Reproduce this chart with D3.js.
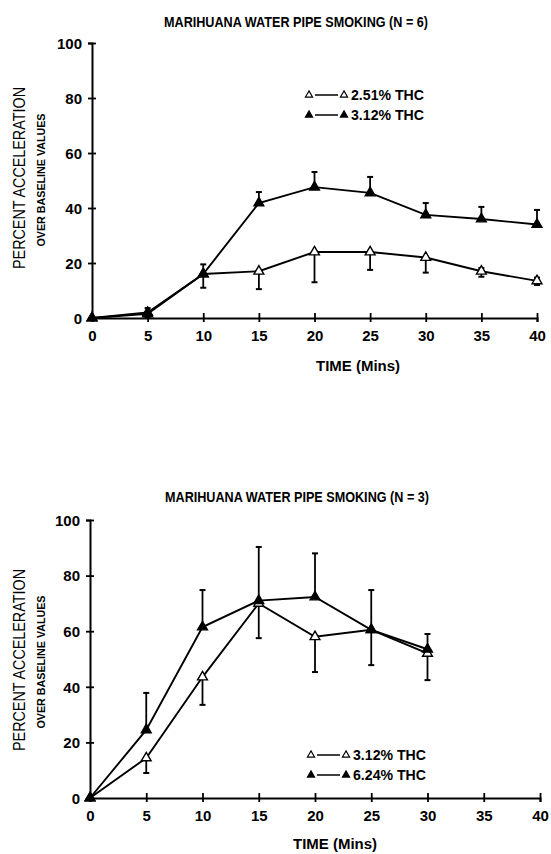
<!DOCTYPE html>
<html><head><meta charset="utf-8">
<script src="https://cdnjs.cloudflare.com/ajax/libs/d3/7.8.5/d3.min.js"></script>
<style>body{margin:0;background:#fff}svg{display:block}text{font-family:"Liberation Sans",Arial,sans-serif;fill:#000}</style>
</head><body>
<script>
// ---- data ----
const xTicks = [0,5,10,15,20,25,30,35,40];
const yTicks = [0,20,40,60,80,100];

// Chart 1 (N = 6)
const times1 = [0,5,10,15,20,25,30,35,40];
const thc251 = [0,1.5,16,17,24,24,22,17,13.5];
const thc251ErrUp = [0,0,0,0,0,0,0,1.2,1.2];
const thc251ErrDown = [0,1.5,5,6.5,11,6.5,5.5,2,1.5];
const thc312a = [0,2,16,41.8,47.6,45.5,37.5,36,34];
const thc312aErrUp = [0,1.6,3.5,4,5.5,5.8,4.3,4.4,5.3];
const thc312aErrDown = [0,0,0,0,0,0,0,0,0];

// Chart 2 (N = 3)
const times2 = [0,5,10,15,20,25,30];
const thc312b = [0,14.4,43.5,70,58,60.5,52];
const thc312bErrUp = [0,0,0,0,0,0,0];
const thc312bErrDown = [0,5.4,10,12.5,12.7,12.7,9.6];
const thc624 = [0,24.5,61.5,71,72.3,60.5,53.5];
const thc624ErrUp = [0,13.3,13.3,19.3,15.7,14.3,5.5];
const thc624ErrDown = [0,0,0,0,0,0,0];

const svg = d3.select("body").append("svg").attr("width",551).attr("height",854);

function drawChart(cfg){
  const g = svg.append("g");
  const x = d3.scaleLinear().domain([0,40]).range([cfg.x0, cfg.x1]);
  const y = d3.scaleLinear().domain([0,100]).range([cfg.y0, cfg.y1]);

  // axes
  const yAxis = g.append("g").attr("transform",`translate(${cfg.x0},0)`)
    .call(d3.axisLeft(y).tickValues(yTicks).tickSize(4).tickPadding(6));
  yAxis.selectAll(".tick line").attr("x1",4).attr("x2",-4);
  const xAxis = g.append("g").attr("transform",`translate(0,${cfg.y0})`)
    .call(d3.axisBottom(x).tickValues(xTicks).tickSize(4).tickPadding(8));
  xAxis.selectAll(".tick line").attr("y1",-5).attr("y2",4);
  [yAxis,xAxis].forEach(a=>{
    a.select(".domain").attr("stroke","#000").attr("stroke-width",2);
    a.selectAll(".tick line").attr("stroke","#000").attr("stroke-width",1.8);
    a.selectAll(".tick text").style("font-family","'Liberation Sans',Arial,sans-serif").attr("font-size",15).attr("font-weight","bold");
  });
  yAxis.selectAll(".tick text").attr("dy","0.35em");

  // title
  g.append("text").attr("x",cfg.titleX).attr("y",cfg.titleY).attr("text-anchor","middle")
    .attr("font-size",14).attr("font-weight","bold").attr("textLength",264).attr("lengthAdjust","spacingAndGlyphs").text(cfg.title);
  // y labels
  g.append("text").attr("transform",`translate(25,${cfg.ylabY}) rotate(-90)`).attr("text-anchor","middle")
    .attr("font-size",17).attr("textLength",182).attr("lengthAdjust","spacingAndGlyphs").text("PERCENT ACCELERATION");
  g.append("text").attr("transform",`translate(45,${cfg.ylabY+2}) rotate(-90)`).attr("text-anchor","middle")
    .attr("font-size",10).attr("font-weight","bold").attr("textLength",133).attr("lengthAdjust","spacingAndGlyphs").text("OVER BASELINE VALUES");
  // x label
  g.append("text").attr("x",cfg.xlabX).attr("y",cfg.xlabY).attr("text-anchor","middle")
    .attr("font-size",14).attr("font-weight","bold").attr("textLength",84).attr("lengthAdjust","spacingAndGlyphs").text("TIME (Mins)");

  const line = d3.line().x(d=>x(d[0])).y(d=>y(d[1]));
  const tri = d3.symbol().type(d3.symbolTriangle).size(42);

  cfg.series.forEach(s=>{
    const pts = s.t.map((t,i)=>[t,s.v[i],s.up[i],s.down[i]]);
    // error bars
    pts.forEach(p=>{
      const hi = p[1]+p[2], lo = p[1]-p[3];
      if(p[2]>0){
        g.append("line").attr("x1",x(p[0])).attr("x2",x(p[0])).attr("y1",y(p[1])).attr("y2",y(hi)).attr("stroke","#000").attr("stroke-width",1.8);
        g.append("line").attr("x1",x(p[0])-3).attr("x2",x(p[0])+3).attr("y1",y(hi)).attr("y2",y(hi)).attr("stroke","#000").attr("stroke-width",2);
      }
      if(p[3]>0){
        g.append("line").attr("x1",x(p[0])).attr("x2",x(p[0])).attr("y1",y(p[1])).attr("y2",y(lo)).attr("stroke","#000").attr("stroke-width",1.8);
        g.append("line").attr("x1",x(p[0])-3).attr("x2",x(p[0])+3).attr("y1",y(lo)).attr("y2",y(lo)).attr("stroke","#000").attr("stroke-width",2);
      }
    });
    g.append("path").datum(pts).attr("d",line).attr("fill","none").attr("stroke","#000").attr("stroke-width",1.9);
    g.selectAll(null).data(pts).enter().append("path").attr("d",tri)
      .attr("transform",d=>`translate(${x(d[0])},${y(d[1])})`)
      .attr("fill",s.filled?"#000":"#fff").attr("stroke","#000").attr("stroke-width",1.4);
  });

  // legend
  cfg.legend.forEach((L,i)=>{
    const ly = cfg.legY + i*20;
    const lt = d3.symbol().type(d3.symbolTriangle).size(22);
    g.append("path").attr("d",lt).attr("transform",`translate(${cfg.legX},${ly})`).attr("fill",L.filled?"#000":"#fff").attr("stroke","#000").attr("stroke-width",1.2);
    g.append("line").attr("x1",cfg.legX+6).attr("x2",cfg.legX+29).attr("y1",ly).attr("y2",ly).attr("stroke","#000").attr("stroke-width",1.5);
    g.append("path").attr("d",lt).attr("transform",`translate(${cfg.legX+35},${ly})`).attr("fill",L.filled?"#000":"#fff").attr("stroke","#000").attr("stroke-width",1.2);
    g.append("text").attr("x",cfg.legX+42).attr("y",ly+5).attr("font-size",14).attr("font-weight","bold")
      .attr("textLength",73).attr("lengthAdjust","spacingAndGlyphs").text(L.label);
  });
}

drawChart({
  x0:92, x1:537, y0:318, y1:43,
  title:"MARIHUANA WATER PIPE SMOKING (N = 6)", titleX:296, titleY:27,
  ylabY:178, xlabX:358, xlabY:371,
  legX:309, legY:95,
  series:[
    {t:times1, v:thc251, up:thc251ErrUp, down:thc251ErrDown, filled:false},
    {t:times1, v:thc312a, up:thc312aErrUp, down:thc312aErrDown, filled:true}
  ],
  legend:[{label:"2.51% THC",filled:false},{label:"3.12% THC",filled:true}]
});

drawChart({
  x0:90, x1:540, y0:798, y1:520,
  title:"MARIHUANA WATER PIPE SMOKING (N = 3)", titleX:297, titleY:502,
  ylabY:660, xlabX:335, xlabY:849,
  legX:311, legY:755,
  series:[
    {t:times2, v:thc312b, up:thc312bErrUp, down:thc312bErrDown, filled:false},
    {t:times2, v:thc624, up:thc624ErrUp, down:thc624ErrDown, filled:true}
  ],
  legend:[{label:"3.12% THC",filled:false},{label:"6.24% THC",filled:true}]
});
</script>
</body></html>
